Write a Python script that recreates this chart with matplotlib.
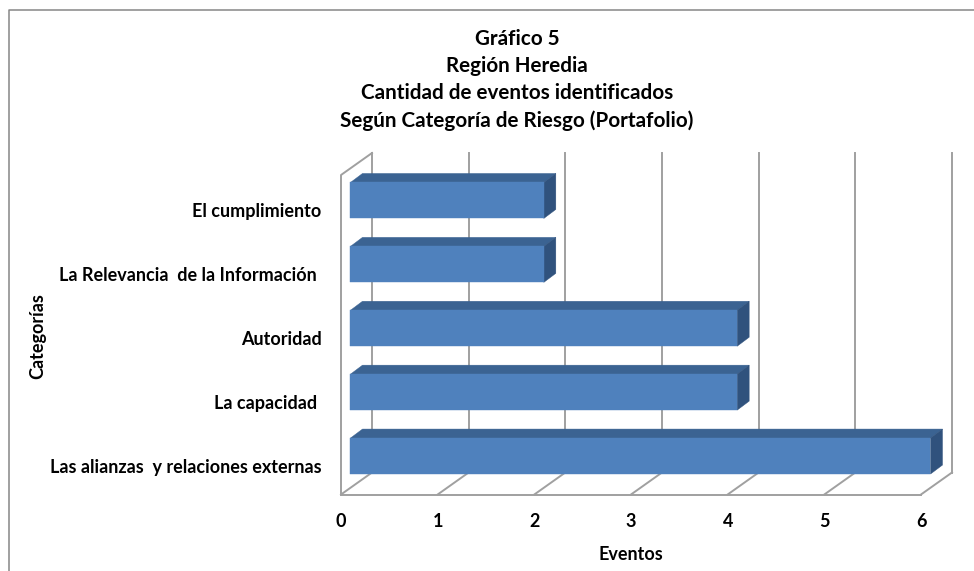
import matplotlib
matplotlib.use('Agg')
import matplotlib.pyplot as plt
from matplotlib.lines import Line2D
from matplotlib.patches import Polygon
from matplotlib.transforms import ScaledTranslation

plt.rcParams['font.family'] = ['Lato', 'DejaVu Sans']
plt.rcParams['font.weight'] = 'bold'

categorias = ['Las alianzas  y relaciones externas', 'La capacidad ', 'Autoridad',
              'La Relevancia  de la Información ', 'El cumplimiento']
eventos = [6, 4, 4, 2, 2]
ticks_x = [0, 1, 2, 3, 4, 5, 6]
titulo = 'Gráfico 5\nRegión Heredia\nCantidad de eventos identificados\nSegún Categoría de Riesgo (Portafolio)'

W, H = 974, 571
fig = plt.figure(figsize=(W / 100, H / 100), dpi=100)
# borde exterior: solo arriba y a la izquierda
fig.add_artist(Line2D([8.5 / W, 8.5 / W, 1], [0, 1 - 9.5 / H, 1 - 9.5 / H], transform=fig.transFigure,
                      color='#868686', linewidth=1.1))

# plano frontal del 3D
ax = fig.add_axes([341 / W, 1 - 494.5 / H, 580 / W, 319.5 / H])
ax.set_xlim(0, 6)
ax.set_ylim(0, 5)
ax.patch.set_visible(False)
for s in ax.spines.values():
    s.set_visible(False)

# profundidad en unidades de datos
fondo_x, fondo_y = 31 / 96.67, 22 / 63.9
barra_x, barra_y = 9.5 / 96.67, 6.5 / 63.9
prof_x, prof_y = 12 / 96.67, 9 / 63.9
alto = 36 / 63.9
gris = '#a0a0a0'
lw = 1.4

# paredes y lineas de division
for t in ticks_x:
    ax.plot([t, t + fondo_x], [0, fondo_y], color=gris, lw=lw, clip_on=False, zorder=1)
    ax.plot([t + fondo_x, t + fondo_x], [fondo_y, 5 + fondo_y], color=gris, lw=lw, clip_on=False, zorder=1)
ax.plot([0, 6], [0, 0], color=gris, lw=lw, clip_on=False, zorder=1)
ax.plot([0, 0, fondo_x], [0, 5, 5 + fondo_y], color=gris, lw=lw, clip_on=False, zorder=1)

# barras con cara superior y lateral
for i, v in enumerate(eventos):
    y0 = i + 0.5 - alto / 2 + barra_y
    y1 = y0 + alto
    x0 = barra_x
    x1 = barra_x + v
    ax.barh(y0 + alto / 2, v, height=alto, left=x0, color='#4f81bd', edgecolor='#4f81bd', linewidth=0.3,
            clip_on=False, zorder=3)
    ax.add_patch(Polygon([(x0, y1), (x0 + prof_x, y1 + prof_y), (x1 + prof_x, y1 + prof_y), (x1, y1)],
                         facecolor='#3b6392', edgecolor='#3b6392', linewidth=0.3, clip_on=False, zorder=2))
    ax.add_patch(Polygon([(x1, y0), (x1 + prof_x, y0 + prof_y), (x1 + prof_x, y1 + prof_y), (x1, y1)],
                         facecolor='#30527d', edgecolor='#30527d', linewidth=0.3, clip_on=False, zorder=2))

ax.set_xticks(ticks_x)
ax.set_xticklabels([str(t) for t in ticks_x], fontsize=13, fontweight='bold')
ax.tick_params(axis='x', length=0, pad=13)
ax.set_yticks([i + 0.5 for i in range(len(categorias))])
ax.set_yticklabels(categorias, fontsize=13, fontweight='bold')
ax.tick_params(axis='y', length=0, pad=14)
# las etiquetas van un poco mas abajo que el centro de cada banda
baja = ScaledTranslation(0, -3.5 / 100, fig.dpi_scale_trans)
for lab in ax.get_yticklabels():
    lab.set_transform(lab.get_transform() + baja)

fig.text(631 / W, 1 - 555 / H, 'Eventos', ha='center', va='center', fontsize=13, fontweight='bold')
fig.text(38 / W, 1 - 336 / H, 'Categorías', ha='center', va='center', rotation=90, fontsize=13, fontweight='bold')
fig.text(517 / W, 1 - 80 / H, titulo, ha='center', va='center', fontsize=14.9, fontweight='bold', linespacing=1.45)

fig.savefig('out.png', dpi=100)
